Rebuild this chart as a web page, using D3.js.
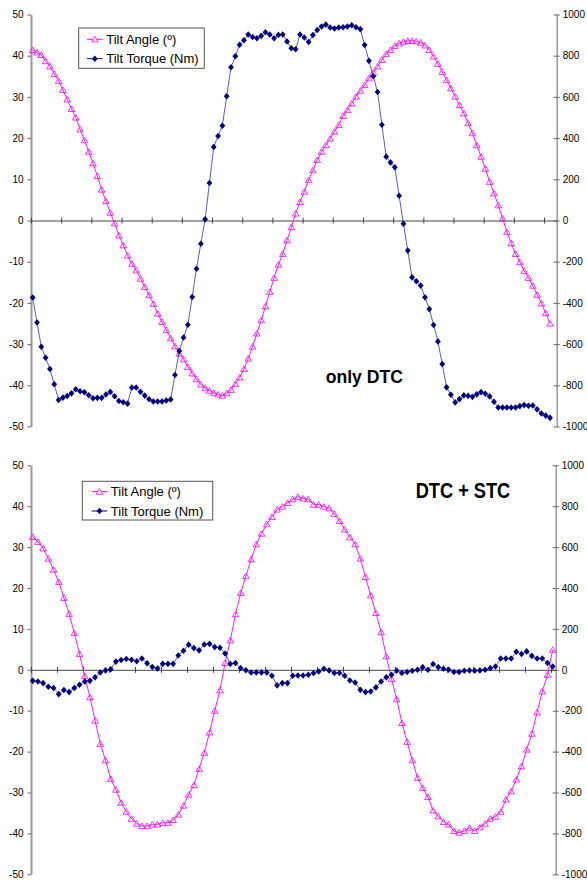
<!DOCTYPE html>
<html>
<head>
<meta charset="utf-8">
<script src="https://cdnjs.cloudflare.com/ajax/libs/d3/7.8.5/d3.min.js"></script>
<style>
    body { margin: 0; background: #fff; }
    svg { display: block; font-family: "Liberation Sans", Arial, sans-serif; }
    .tick text { font-size: 10px; fill: #000; }
    .legend-text { font-size: 13px; fill: #000; }
    .title { font-weight: bold; fill: #000; }
</style>
</head>
<body>
<svg id="chart" width="587" height="881"></svg>
<script>
// Tilt angle (deg) and tilt torque (Nm), one value per sample
var topAngle = [
    41.4, 40.8, 40.2, 38.7, 37.4, 35.6, 33.9, 31.7, 29.4, 27.1,
    25.0, 22.1, 19.5, 16.7, 13.9, 10.8, 7.5, 4.7, 1.9, -0.7,
    -3.6, -6.0, -8.5, -10.5, -12.1, -14.1, -16.1, -18.1, -20.2, -22.6,
    -24.6, -26.6, -28.6, -30.5, -32.3, -33.7, -35.5, -37.1, -38.5, -39.8,
    -40.7, -41.3, -41.8, -42.2, -42.5, -41.9, -41.1, -39.7, -38.1, -36.0,
    -33.5, -30.6, -27.4, -24.2, -20.8, -17.3, -13.9, -10.7, -8.1, -4.8,
    -1.6, 1.7, 4.5, 7.0, 9.8, 12.2, 14.7, 16.7, 18.3, 19.9,
    21.6, 23.2, 25.4, 26.8, 28.4, 30.1, 31.5, 32.9, 34.5, 35.9,
    37.4, 39.0, 40.4, 41.4, 42.4, 43.0, 43.4, 43.6, 43.6, 43.5,
    43.2, 42.5, 41.4, 39.8, 38.0, 36.1, 34.1, 32.1, 30.1, 28.0,
    26.0, 23.6, 21.2, 18.3, 15.5, 12.6, 9.4, 6.6, 3.7, 0.5,
    -2.8, -5.5, -8.1, -10.1, -12.2, -13.9, -15.8, -18.0, -20.1, -22.5,
    -25.0
];
var topTorque = [
    -374, -495, -613, -666, -721, -795, -871, -860, -852, -839,
    -819, -829, -834, -848, -863, -861, -861, -845, -832, -853,
    -876, -882, -889, -811, -811, -831, -850, -868, -879, -879,
    -879, -874, -869, -750, -634, -568, -506, -371, -234, -113,
    6, 182, 357, 410, 460, 603, 744, 797, 853, 875,
    903, 891, 885, 896, 914, 903, 885, 901, 903, 869,
    836, 831, 903, 888, 867, 900, 925, 942, 951, 937,
    932, 937, 938, 942, 948, 938, 929, 852, 775, 700,
    624, 465, 310, 282, 258, 120, -16, -146, -276, -295,
    -316, -373, -430, -507, -587, -697, -810, -846, -883, -867,
    -849, -851, -856, -844, -833, -841, -854, -880, -908, -908,
    -908, -908, -908, -901, -896, -899, -898, -917, -937, -947,
    -958
];
var bottomAngle = [
    32.5, 31.3, 29.7, 27.2, 24.5, 21.5, 17.6, 13.7, 9.0, 3.9,
    -1.5, -6.7, -12.4, -18.1, -22.1, -26.7, -29.3, -32.5, -34.7, -36.4,
    -37.6, -38.2, -38.2, -37.8, -37.8, -37.4, -37.4, -36.7, -35.4, -33.2,
    -30.5, -28.2, -24.2, -20.3, -15.3, -10.0, -5.0, 1.7, 7.2, 13.6,
    18.8, 22.9, 27.0, 30.7, 33.3, 35.6, 37.4, 39.2, 39.9, 40.8,
    41.7, 42.3, 41.9, 41.7, 40.4, 40.4, 39.9, 39.5, 38.1, 36.4,
    34.3, 32.4, 30.7, 27.2, 22.7, 18.2, 13.9, 9.2, 3.3, -2.2,
    -7.2, -13.0, -17.6, -22.1, -26.4, -28.9, -31.1, -34.4, -35.8, -37.2,
    -37.8, -39.4, -39.8, -39.4, -38.6, -39.4, -38.5, -37.6, -36.4, -35.9,
    -34.7, -31.7, -29.7, -26.8, -23.6, -19.5, -15.6, -10.4, -5.3, -1.2,
    4.9
];
var bottomTorque = [
    -54, -57, -65, -83, -89, -119, -99, -109, -89, -73,
    -57, -54, -37, -13, -3, 3, 40, 48, 53, 49,
    42, 55, 32, 14, 6, 29, 29, 29, 70, 93,
    123, 106, 95, 124, 127, 111, 108, 80, 29, 33,
    9, -2, -13, -13, -13, -13, -29, -76, -65, -65,
    -29, -28, -28, -24, -16, -8, 5, -3, -16, -16,
    -29, -52, -62, -98, -109, -106, -86, -57, -37, -24,
    -5, -16, -11, -5, 0, 13, 0, 28, 13, 5,
    0, -11, -11, -5, -3, -5, -3, 0, 8, 16,
    55, 55, 55, 88, 77, 90, 68, 55, 55, 33,
    16
];
var leftTicks = [50, 40, 30, 20, 10, 0, -10, -20, -30, -40, -50];
var rightTicks = [1000, 800, 600, 400, 200, 0, -200, -400, -600, -800, -1000];
var seriesNames = ["Tilt Angle (\u00ba)", "Tilt Torque (Nm)"];

var angleColor = "#ff00ff";
var torqueColor = "#000080";

var svg = d3.select("#chart");

// marker shapes, centred on the point
var triangle = "M0,-3 L3.3,2.6 L-3.3,2.6 Z";
var diamond = "M0,-3.3 L2.9,0 L0,3.3 L-2.9,0 Z";

// plain labels with a hyphen minus, no thousands comma
function plain(d) { return String(d); }

function drawPanel(p) {
    var g = svg.append("g");

    var x = d3.scaleLinear().domain(p.xDomain).range([31, p.right]);
    var yL = d3.scaleLinear().domain([-50, 50]).range([p.bottom, p.top]);
    var yR = d3.scaleLinear().domain([-1000, 1000]).range([p.bottom, p.top]);

    // left axis
    var left = g.append("g")
        .attr("transform", "translate(31,0)")
        .call(d3.axisLeft(yL).tickValues(leftTicks).tickFormat(plain)
            .tickSize(3.5).tickSizeOuter(0).tickPadding(4));
    left.select(".domain").attr("stroke", "#999").attr("stroke-width", 2);
    left.selectAll(".tick line").attr("stroke", "#666");

    // right axis
    var right = g.append("g")
        .attr("transform", "translate(" + p.right + ",0)")
        .call(d3.axisRight(yR).tickValues(rightTicks).tickFormat(plain)
            .tickSize(3).tickSizeOuter(0).tickPadding(3));
    right.select(".domain").attr("stroke", "#999").attr("stroke-width", 1.5);
    right.selectAll(".tick line").attr("stroke", "#666").attr("x1", -3);

    // category axis on the zero line
    var ticks = d3.range(p.xDomain[0], p.xDomain[1], p.tickStep);
    var bottom = g.append("g")
        .attr("transform", "translate(0," + yL(0) + ")")
        .call(d3.axisBottom(x).tickValues(ticks).tickSize(3).tickSizeOuter(0).tickFormat(""));
    bottom.select(".domain").attr("stroke", "#444");
    bottom.selectAll(".tick line").attr("stroke", "#444").attr("y1", -3);

    var angleLine = d3.line()
        .x(function (d, i) { return x(i); })
        .y(function (d) { return yL(d); });
    var torqueLine = d3.line()
        .x(function (d, i) { return x(i); })
        .y(function (d) { return yR(d); });

    g.append("path")
        .datum(p.angle)
        .attr("fill", "none")
        .attr("stroke", angleColor)
        .attr("stroke-width", 0.9)
        .attr("d", angleLine);
    g.selectAll(".tri")
        .data(p.angle)
        .enter().append("path")
        .attr("class", "tri")
        .attr("transform", function (d, i) { return "translate(" + x(i) + "," + yL(d) + ")"; })
        .attr("d", triangle)
        .attr("fill", "none")
        .attr("stroke", angleColor)
        .attr("stroke-width", 0.8);

    g.append("path")
        .datum(p.torque)
        .attr("fill", "none")
        .attr("stroke", torqueColor)
        .attr("stroke-width", 0.8)
        .attr("stroke-opacity", 0.8)
        .attr("d", torqueLine);
    g.selectAll(".dia")
        .data(p.torque)
        .enter().append("path")
        .attr("class", "dia")
        .attr("transform", function (d, i) { return "translate(" + x(i) + "," + yR(d) + ")"; })
        .attr("d", diamond)
        .attr("fill", torqueColor);

    // legend
    var lg = g.append("g").attr("transform", "translate(" + p.legend[0] + "," + p.legend[1] + ")");
    lg.append("rect")
        .attr("width", p.legend[2]).attr("height", p.legend[3])
        .attr("fill", "#fff").attr("stroke", "#555").attr("stroke-width", 1);
    seriesNames.forEach(function (name, k) {
        var row = lg.append("g").attr("transform", "translate(0," + p.rows[k] + ")");
        var color = k === 0 ? angleColor : torqueColor;
        row.append("line")
            .attr("x1", p.sample[0]).attr("x2", p.sample[1])
            .attr("stroke", color).attr("stroke-width", 1);
        var m = row.append("path")
            .attr("transform", "translate(" + (p.sample[0] + p.sample[1]) / 2 + ",0)")
            .attr("d", k === 0 ? triangle : diamond);
        if (k === 0) m.attr("fill", "#fff").attr("stroke", color).attr("stroke-width", 0.8);
        else m.attr("fill", color);
        row.append("text")
            .attr("class", "legend-text")
            .attr("x", p.sample[1] + 3.5)
            .attr("dy", "0.36em")
            .text(name);
    });

    g.append("text")
        .attr("class", "title")
        .attr("transform", "translate(" + p.title[0] + "," + p.title[1] + ") scale(1," + p.title[3] + ")")
        .attr("font-size", p.title[2])
        .text(p.titleText);
}

drawPanel({
    top: 14.5, bottom: 426.5, right: 556.7,
    xDomain: [-0.39, 121.55], tickStep: 7,
    angle: topAngle, torque: topTorque,
    legend: [78.7, 28, 125.6, 40.3], rows: [11.3, 30.7], sample: [8.3, 24],
    title: [325.7, 383.3, 17.6, 1], titleText: "only DTC"
});

drawPanel({
    top: 465.3, bottom: 874.3, right: 555.7,
    xDomain: [-0.33, 100.58], tickStep: 5,
    angle: bottomAngle, torque: bottomTorque,
    legend: [82.3, 481.3, 130.4, 38.7], rows: [10.4, 29.7], sample: [9.4, 25],
    title: [415.7, 498.3, 18.2, 1.18], titleText: "DTC + STC"
});
</script>
</body>
</html>
